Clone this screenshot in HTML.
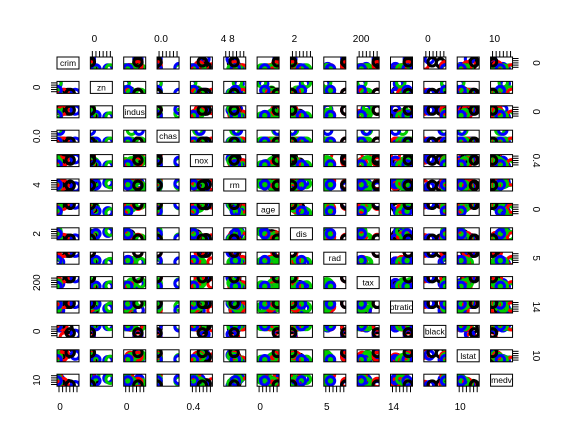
<!DOCTYPE html>
<html><head><meta charset="utf-8"><style>
html,body{margin:0;padding:0;background:#fff;width:569px;height:443px;overflow:hidden}
svg{font-family:"Liberation Sans",sans-serif}
</style></head><body>
<svg id="c" width="569" height="443"></svg>
<script>
const vars=["crim","zn","indus","chas","nox","rm","age","dis","rad","tax","ptratio","black","lstat","medv"];
const labels=["crim","zn","indus","chas","nox","rm","age","dis","rad","tax","ptratio","black","lstat","medv"];
const mins=[0,0,0,0,0.38,3.5,0,1,1,187,12.6,0,1.7,5];
const maxs=[30,100,28,1,0.88,8.8,100,12,24,711,22,397,38,50];
const rows=[
[0.006,18,2.3,0,0.54,6.6,65,4.1,1,296,15.3,397,5,24],
[0.03,0,7.1,0,0.47,6.4,79,5,2,242,17.8,397,9,21.6],
[0.03,0,2.2,0,0.46,7,46,6,3,222,18.7,394,3,33],
[0.09,12.5,7.9,0,0.52,6,66,5.6,5,311,15.2,396,12,23],
[0.6,0,8.1,0,0.54,5.9,82,4,4,307,21,376,15,17],
[1.2,0,8.1,0,0.54,5.7,94,3.8,4,307,21,376,18,15],
[0.05,80,1.5,0,0.4,7.2,30,8,2,280,16,395,5,35],
[0.1,0,10,1,0.55,6.2,90,2.5,5,430,17.8,380,11,24],
[2.7,0,19.6,0,0.87,6.1,96,1.8,5,403,14.7,360,13,17],
[3.5,0,19.6,1,0.6,6.8,95,1.6,5,403,14.7,350,8,30],
[10,0,18.1,0,0.7,6.1,98,1.9,24,666,20.2,10,25,8],
[15,0,18.1,0,0.68,5.6,100,1.5,24,666,20.2,300,28,11],
[25,0,18.1,0,0.71,5.3,95,1.7,24,666,20.2,100,22,7],
[0.2,20,3.9,0,0.45,7.8,40,5,5,250,18,390,4,44],
[0.4,0,6.2,0,0.5,8,60,3.5,8,307,17.4,385,3,48],
[5,0,18.1,0,0.74,6.4,90,2,24,666,20.2,395,16,14],
[0.02,90,2,0,0.41,6.8,20,9,4,300,17,396,6,31],
[0.3,0,21.9,0,0.62,5.5,95,1.6,4,437,21.2,390,20,16],
[8,0,18.1,0,0.58,6.2,85,2.2,24,666,20.2,380,18,19],
[0.15,0,9.7,0,0.58,5.9,70,2.8,6,391,19.2,395,14,21],
[0.08,25,5.1,0,0.45,6.3,35,6.5,8,284,19.7,390,8,25],
[18,0,18.1,0,0.65,6.0,92,1.6,24,666,20.2,150,30,9]];
const groups=["green","red","green","black","green","red","blue","green","red","blue","red","black","blue","green","red","black","green","green","red","green","blue","black"];
const topTicks=[[1,"0"],[3,"0.0"],[5,"4  8"],[7,"2"],[9,"200"],[11,"0"],[13,"10"]];
const botTicks=[[0,"0"],[2,"0"],[4,"0.4"],[6,"0"],[8,"5"],[10,"14"],[12,"10"]];
const leftTicks=[[1,"0"],[3,"0.0"],[5,"4"],[7,"2"],[9,"200"],[11,"0"],[13,"10"]];
const rightTicks=[[0,"0"],[2,"0"],[4,"0.4"],[6,"0"],[8,"5"],[10,"14"],[12,"10"]];
const colMap={green:"#00cd00",red:"#ff0000",blue:"#0000ff",black:"#000000"};
const NS="http://www.w3.org/2000/svg",svg=document.getElementById("c");
const PX0=57,PDX=33.35,PW=22,PY0=57,PDY=24.4,PH=12;
const px=j=>PX0+j*PDX, py=i=>PY0+i*PDY;
function mk(t,a,p){const e=document.createElementNS(NS,t);for(const k in a)e.setAttribute(k,a[k]);(p||svg).appendChild(e);return e;}
const defs=mk("defs",{});
for(let i=0;i<14;i++)for(let j=0;j<14;j++){
  const x=px(j),y=py(i);
  if(i===j){
    const r=mk("rect",{x:x,y:y,width:PW,height:PH,fill:"#fff",stroke:"#000","stroke-width":1});
    
    
    const t=mk("text",{x:x+PW/2,y:y+9,"text-anchor":"middle","font-size":8.5});
    t.textContent=labels[i];
    
    
    continue;
  }
  const cp=mk("clipPath",{id:"cp"+i+"_"+j},defs);mk("rect",{x:x,y:y,width:PW,height:PH},cp);
  const g=mk("g",{"clip-path":"url(#cp"+i+"_"+j+")"});
  
  
  rows.forEach((r,k)=>{
    const sx=x+(r[j]-mins[j])/(maxs[j]-mins[j])*PW;
    const sy=y+PH-(r[i]-mins[i])/(maxs[i]-mins[i])*PH;
    const c=mk("circle",{cx:sx,cy:sy,r:4.2,fill:"none",stroke:colMap[groups[k]],"stroke-width":3},g);
    
    
  });
  const b=mk("rect",{x:x,y:y,width:PW,height:PH,fill:"none",stroke:"#000","stroke-width":1});
  
  
}
function txt(x,y,s,rot,name){const t=mk("text",{x:x,y:y,"text-anchor":"middle","font-size":10});if(rot)t.setAttribute("transform","rotate("+rot+" "+x+" "+y+")");t.textContent=s;
  
  }
function tickH(x,y0,dir){for(let k=0;k<6;k++)mk("line",{x1:x+2+k*3.6,x2:x+2+k*3.6,y1:y0,y2:y0+dir*6,stroke:"#000","stroke-width":1});}
function tickV(y,x0,dir){for(let k=0;k<5;k++)mk("line",{x1:x0,x2:x0+dir*6,y1:y+1.5+k*2.2,y2:y+1.5+k*2.2,stroke:"#000","stroke-width":1});}
topTicks.forEach(([j,s])=>{tickH(px(j),PY0,-1);txt(px(j)+4,42,s,0,"top-tick-label");});
botTicks.forEach(([j,s])=>{tickH(px(j),py(13)+PH,1);txt(px(j)+3,410,s,0,"bottom-tick-label");});
leftTicks.forEach(([i,s])=>{tickV(py(i),PX0,-1);txt(40,py(i)+6,s,-90,"left-tick-label");});
rightTicks.forEach(([i,s])=>{tickV(py(i),px(13)+PW,1);txt(533,py(i)+6,s,90,"right-tick-label");});
</script>
</body></html>
